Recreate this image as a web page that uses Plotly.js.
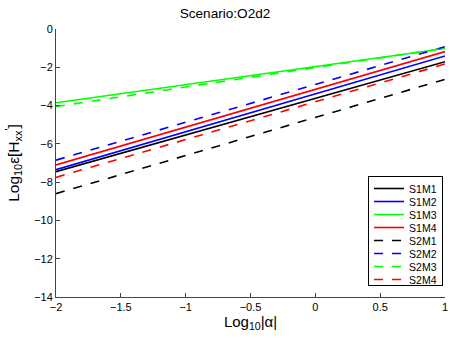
<!DOCTYPE html>
<html>
<head>
<meta charset="utf-8">
<script src="https://cdn.plot.ly/plotly-3.0.1.min.js"></script>
<style>body{margin:0;padding:0;background:#fff;}</style>
</head>
<body>
<div id="chart" style="width:450px;height:338px;"></div>
<script>
//log10 |alpha| at the two ends of each line
var alpha = [-2, 1];

//log10 error for each series
var s1m1 = [-7.45, -1.71];
var s1m2 = [-7.35, -1.41];
var s1m3 = [-3.85, -1.02];
var s1m4 = [-7.1, -1.18];
var s2m1 = [-8.6, -2.63];
var s2m2 = [-6.85, -0.92];
var s2m3 = [-4.05, -1.0];
var s2m4 = [-7.75, -1.83];

var names = ['S1M1', 'S1M2', 'S1M3', 'S1M4', 'S2M1', 'S2M2', 'S2M3', 'S2M4'];
var series = [s1m1, s1m2, s1m3, s1m4, s2m1, s2m2, s2m3, s2m4];
var colors = ['#000000', '#0000ff', '#00ff00', '#ff0000', '#000000', '#0000ff', '#00ff00', '#ff0000'];

var data = [];
for (var i = 0; i < series.length; i++) {
    data.push({
        x: alpha,
        y: series[i],
        type: 'scatter',
        mode: 'lines',
        name: names[i],
        line: {
            width: 1.6,
            color: colors[i],
            dash: i < 4 ? 'solid' : 'dash'
        }
    });
}

var axisStyle = {
    showgrid: false,
    zeroline: false,
    showline: true,
    linecolor: '#444',
    linewidth: 1,
    ticks: 'inside',
    ticklen: 4,
    tickcolor: '#444',
    tickfont: {family: 'Liberation Sans, Arial', size: 11, color: '#000'},
    fixedrange: true
};

var layout = {
    width: 450,
    height: 338,
    margin: {l: 56, r: 5, t: 29, b: 41},
    paper_bgcolor: '#fff',
    plot_bgcolor: '#fff',
    title: {
        text: 'Scenario:O2d2',
        font: {family: 'Liberation Sans, Arial', size: 13.6, color: '#000'},
        x: 0.5,
        xanchor: 'center',
        y: 0.96,
        yanchor: 'middle'
    },
    xaxis: Object.assign({}, axisStyle, {
        range: [-2, 1],
        tickvals: [-2, -1.5, -1, -0.5, 0, 0.5, 1],
        ticktext: ['\u22122', '\u22121.5', '\u22121', '\u22120.5', '0', '0.5', '1'],
        title: {
            text: 'Log<sub>10</sub>|α|',
            font: {family: 'Liberation Sans, Arial', size: 15, color: '#000'},
            standoff: 2
        }
    }),
    yaxis: Object.assign({}, axisStyle, {
        range: [-14, 0],
        tickvals: [-14, -12, -10, -8, -6, -4, -2, 0],
        ticktext: ['\u221214', '\u221212', '\u221210', '\u22128', '\u22126', '\u22124', '\u22122', '0'],
        title: {
            text: 'Log<sub>10</sub>ε[H<sub>xx</sub><sup>\'</sup>]',
            font: {family: 'Liberation Sans, Arial', size: 15.5, color: '#000'},
            standoff: 10
        }
    }),
    showlegend: true,
    legend: {
        x: 0.995,
        xanchor: 'right',
        y: 0.041,
        yanchor: 'bottom',
        bgcolor: '#fff',
        bordercolor: '#000',
        borderwidth: 1,
        itemwidth: 30,
        font: {family: 'Liberation Sans, Arial', size: 10.5, color: '#000'},
        tracegroupgap: 0
    }
};

function readTranslate(el) {
    var t = el.getAttribute('transform') || '';
    var m = t.match(/translate\(\s*([-\d.e]+)[ ,]+([-\d.e]+)\s*\)/);
    return m ? [parseFloat(m[1]), parseFloat(m[2])] : [0, 0];
}

//squeeze the legend rows so they sit as tight as in the original figure
function tightenLegend(gd) {
    var leg = gd.querySelector('.legend');
    if (!leg) return;
    var items = leg.querySelectorAll('.traces');
    if (items.length < 2) return;
    var step = 13;
    var first = readTranslate(items[0]);
    var oldStep = readTranslate(items[1])[1] - first[1];
    for (var k = 0; k < items.length; k++) {
        var p = readTranslate(items[k]);
        items[k].setAttribute('transform', 'translate(' + p[0] + ',' + (first[1] - 3 + step * k) + ')');
    }
    var shrink = (oldStep - step) * items.length + 6;
    var bg = leg.querySelector('.bg');
    var h = parseFloat(bg.getAttribute('height'));
    bg.setAttribute('height', h - shrink);
    var lp = readTranslate(leg);
    leg.setAttribute('transform', 'translate(' + lp[0] + ',' + (lp[1] + shrink) + ')');
}

Plotly.newPlot('chart', data, layout, {displayModeBar: false, staticPlot: true}).then(tightenLegend);
</script>
</body>
</html>
